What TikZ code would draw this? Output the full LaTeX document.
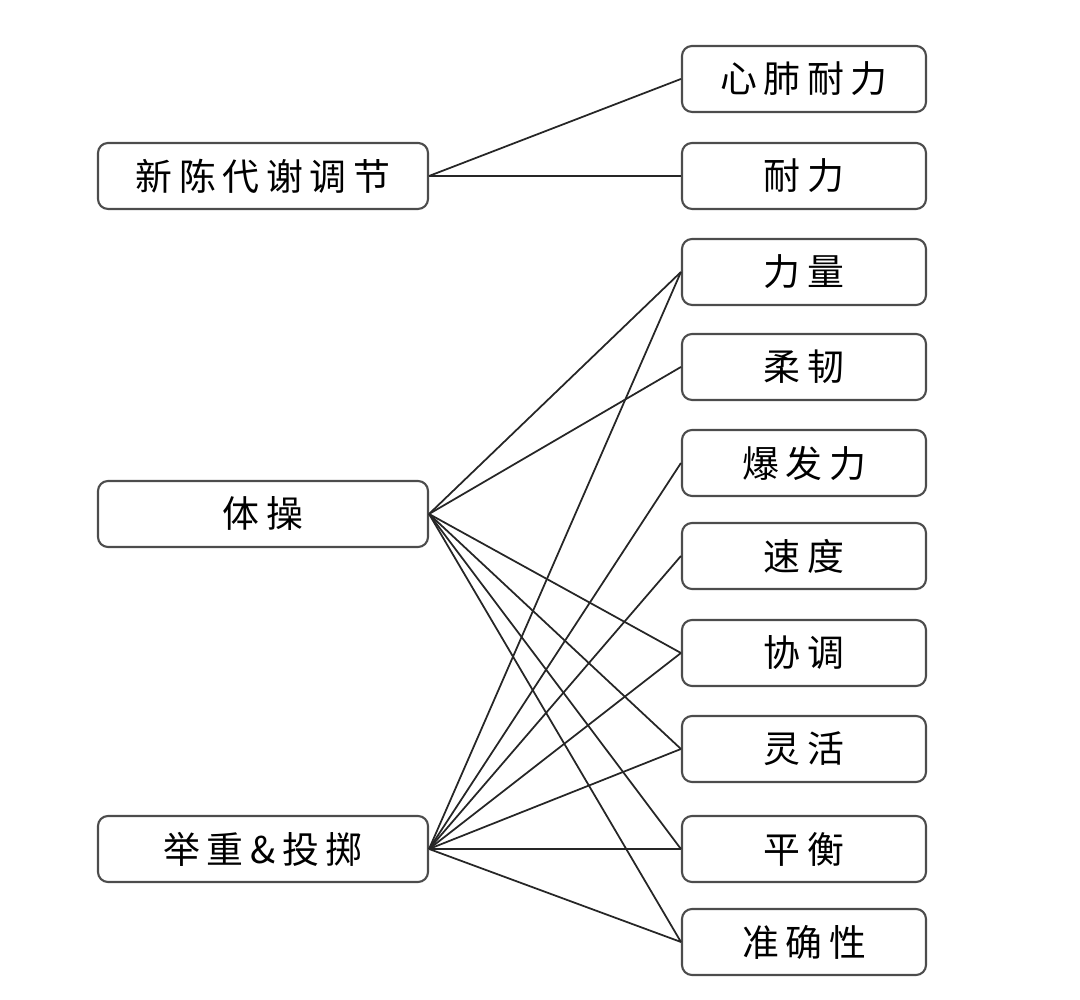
\documentclass[tikz,border=0pt]{standalone}
\usepackage{fontspec}
\newfontfamily\cjk{Noto Sans CJK SC}[LetterSpace=18]
\usepackage{tikz}

\begin{document}
\begin{tikzpicture}
		\tikzset{sport/.style={shape = rectangle, rounded corners = 1mm, draw = black!70, line width = 0.6pt, minimum width = 3.3cm, minimum height = 0.66cm, font = \cjk\fontsize{10.5}{12}\selectfont}}
		\tikzset{ability/.style={sport, minimum width = 2.44cm}}
		\tikzset{edge/.style={draw = black!85, line width = 0.5pt}}
		\useasboundingbox (0, 0) rectangle (10.8, 10);
		%sports
		\node[sport] (meta) at (2.63, 8.24) {新陈代谢调节};
		\node[sport] (gym) at (2.63, 4.86) {体操};
		\node[sport] (lift) at (2.63, 1.51) {举重\&投掷};
		%abilities
		\node[ability] (cardio) at (8.04, 9.21) {心肺耐力};
		\node[ability] (endur) at (8.04, 8.24) {耐力};
		\node[ability] (strength) at (8.04, 7.28) {力量};
		\node[ability] (flex) at (8.04, 6.33) {柔韧};
		\node[ability] (power) at (8.04, 5.37) {爆发力};
		\node[ability] (speed) at (8.04, 4.44) {速度};
		\node[ability] (coord) at (8.04, 3.47) {协调};
		\node[ability] (agile) at (8.04, 2.51) {灵活};
		\node[ability] (balance) at (8.04, 1.51) {平衡};
		\node[ability] (accur) at (8.04, 0.58) {准确性};
		%edges
		\draw[edge] (meta.east) -- (cardio.west);
		\draw[edge] (meta.east) -- (endur.west);
		\draw[edge] (gym.east) -- (strength.west);
		\draw[edge] (gym.east) -- (flex.west);
		\draw[edge] (gym.east) -- (coord.west);
		\draw[edge] (gym.east) -- (agile.west);
		\draw[edge] (gym.east) -- (balance.west);
		\draw[edge] (gym.east) -- (accur.west);
		\draw[edge] (lift.east) -- (strength.west);
		\draw[edge] (lift.east) -- (power.west);
		\draw[edge] (lift.east) -- (speed.west);
		\draw[edge] (lift.east) -- (coord.west);
		\draw[edge] (lift.east) -- (agile.west);
		\draw[edge] (lift.east) -- (balance.west);
		\draw[edge] (lift.east) -- (accur.west);
		\end{tikzpicture}
\end{document}
